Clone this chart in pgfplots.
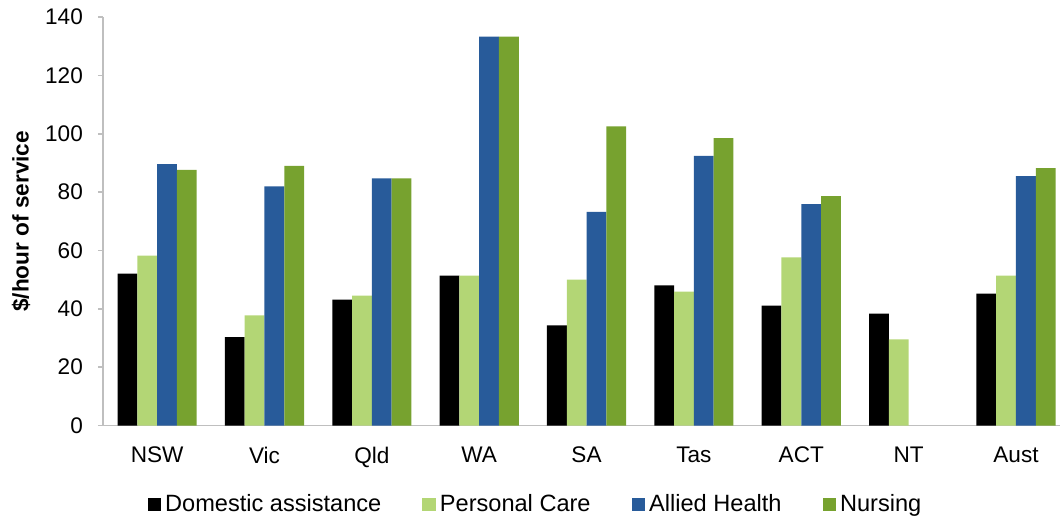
\documentclass[border=0pt]{standalone}
\usepackage{pgfplots}
\pgfplotsset{compat=1.18}
\usepackage{fontspec}
\setmainfont{Liberation Sans}
\definecolor{cDom}{HTML}{000000}
\definecolor{cPer}{HTML}{B3D675}
\definecolor{cAll}{HTML}{285B9A}
\definecolor{cNur}{HTML}{77A22F}
\definecolor{axgray}{HTML}{BFBFBF}
\newcommand{\fs}{\fontsize{11.3}{13.5}\selectfont}
\newcommand{\fsl}{\fontsize{11.8}{14}\selectfont}
\begin{document}
\begin{tikzpicture}
\begin{axis}[
  name=ax,
  scale only axis,
  width=479pt, height=204.5pt,
  ybar=0pt, bar width=9.9pt,
  xmin=-0.505, xmax=8.41,
  ymin=0, ymax=140,
  ytick={0,20,...,140},
  xtick={0,...,8},
  xticklabels={NSW,Vic,Qld,WA,SA,Tas,ACT,NT,Aust},
  axis x line*=bottom, axis y line*=left,
  axis line style={axgray, line width=0.8pt, -},
  x axis line style={-},
  tick align=outside,
  major tick length=2.5pt,
  ytick style={axgray, line width=0.8pt},
  xtick style={draw=none},
  /pgf/number format/assume math mode=true,
  tick label style={font=\fs},
  xticklabel style={yshift=-4.5pt},
  yticklabel style={xshift=-4pt},
  ylabel={\$/hour of service},
  ylabel style={font=\fs\bfseries, at={(axis description cs:-0.0856,0.5)}, anchor=center},
  legend style={at={(0.453,-0.193)}, anchor=center, draw=none, font=\fsl,
    legend columns=4,
    /tikz/every even column/.append style={column sep=18.5pt}},
  legend image code/.code={\fill[#1,draw=none] (0pt,-3.4pt) rectangle (6.8pt,3.4pt);},
]
\addplot[fill=cDom, draw=none] coordinates {(0,52.1) (1,30.3) (2,43.2) (3,51.4) (4,34.3) (5,48.0) (6,41.1) (7,38.4) (8,45.2)};
\addplot[fill=cPer, draw=none] coordinates {(0,58.2) (1,37.8) (2,44.5) (3,51.4) (4,50.0) (5,45.9) (6,57.6) (7,29.5) (8,51.4)};
\addplot[fill=cAll, draw=none] coordinates {(0,89.6) (1,82.0) (2,84.7) (3,133.3) (4,73.2) (5,92.4) (6,75.9) (8,85.5)};
\addplot[fill=cNur, draw=none] coordinates {(0,87.6) (1,89.0) (2,84.7) (3,133.3) (4,102.5) (5,98.5) (6,78.6) (8,88.2)};
\legend{Domestic assistance,Personal Care,Allied Health,Nursing}
\end{axis}
\path (ax.south west) ++(-51.5pt,-46.5pt) coordinate (bl);
\path (ax.north east) ++(1pt,8.5pt) coordinate (tr);
\path (bl) rectangle (tr);
\end{tikzpicture}
\end{document}
